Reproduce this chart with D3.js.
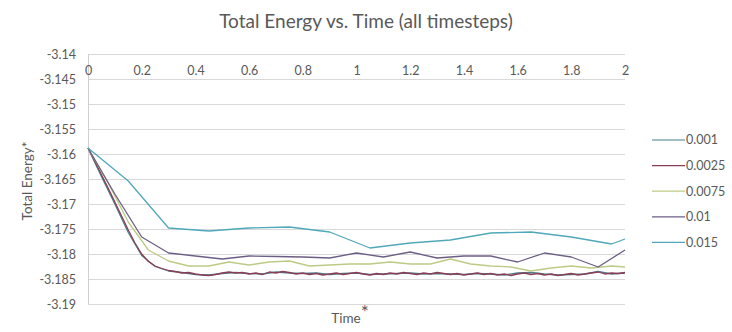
<!DOCTYPE html>
<html>
<head>
<meta charset="utf-8">
<script src="https://cdn.jsdelivr.net/npm/d3@7"></script>
<style>
  html, body { margin: 0; padding: 0; background: #fff; }
  svg { display: block; }
  text, tspan { font-family: Lato, "Open Sans", sans-serif; fill: #595959; }
</style>
</head>
<body>
<svg id="chart" width="732" height="332"></svg>
<script>
// Timestep labels (legend order) and their line colours
const seriesNames = ["0.001", "0.0025", "0.0075", "0.01", "0.015"];
const seriesColors = ["#4a7f8e", "#8a3d55", "#bccb84", "#6d5e85", "#4fa9ba"];

// Sampling interval of each run's output (time units)
const sampleStep = [0.05, 0.025, 0.075, 0.1, 0.15];

// Total energy per run, one value per output sample starting at t = 0
// (the final sample of each run is taken at t = 2)
const energy0001 = [
  -3.1588, -3.1645, -3.1700, -3.1757, -3.1803, -3.1825, -3.1834, -3.1837, -3.1841, -3.1842,
  -3.1839, -3.1837, -3.1839, -3.1840, -3.1836, -3.1838, -3.1839, -3.1838, -3.1841, -3.1839,
  -3.1838, -3.1841, -3.1840, -3.1839, -3.1838, -3.1840, -3.1839, -3.1840, -3.1841, -3.1839,
  -3.1840, -3.1842, -3.1838, -3.1837, -3.1840, -3.1842, -3.1841, -3.1840, -3.1835, -3.1840,
  -3.1838
];
const energy00025 = [
  -3.1588, -3.1614, -3.1641, -3.1668, -3.1696, -3.1724, -3.1752, -3.1778, -3.1800, -3.1815,
  -3.1824, -3.1829, -3.1833, -3.1835, -3.1838, -3.1837, -3.1840, -3.1842, -3.1843, -3.1841,
  -3.1838, -3.1836, -3.1838, -3.1837, -3.1840, -3.1838, -3.1841, -3.1836, -3.1838, -3.1835,
  -3.1837, -3.1840, -3.1838, -3.1841, -3.1839, -3.1842, -3.1840, -3.1838, -3.1841, -3.1839,
  -3.1837, -3.1840, -3.1842, -3.1839, -3.1841, -3.1838, -3.1840, -3.1837, -3.1839, -3.1841,
  -3.1838, -3.1840, -3.1837, -3.1839, -3.1841, -3.1839, -3.1842, -3.1840, -3.1838, -3.1841,
  -3.1839, -3.1842, -3.1840, -3.1843, -3.1840, -3.1838, -3.1841, -3.1839, -3.1842, -3.1840,
  -3.1843, -3.1841, -3.1839, -3.1842, -3.1840, -3.1838, -3.1836, -3.1840, -3.1838, -3.1839,
  -3.1837
];
const energy00075 = [
  -3.1588, -3.1658, -3.1736, -3.1792, -3.1814, -3.1824, -3.1824, -3.1816, -3.1822, -3.1816,
  -3.1814, -3.1824, -3.1822, -3.1820, -3.1820, -3.1816, -3.1820, -3.1820, -3.1810, -3.1820,
  -3.1824, -3.1826, -3.1834, -3.1828, -3.1824, -3.1828, -3.1824, -3.1826
];
const energy001 = [
  -3.1588, -3.1680, -3.1766, -3.1798, -3.1804, -3.1810, -3.1804, -3.1805, -3.1806, -3.1808,
  -3.1798, -3.1806, -3.1796, -3.1808, -3.1804, -3.1804, -3.1816, -3.1798, -3.1806, -3.1826,
  -3.1792
];
const energy0015 = [
  -3.1588, -3.1654, -3.1748, -3.1754, -3.1748, -3.1746, -3.1756, -3.1788, -3.1778, -3.1772,
  -3.1758, -3.1756, -3.1766, -3.1780, -3.1770
];

// Axis ticks
const xTicks = [0, 0.2, 0.4, 0.6, 0.8, 1, 1.2, 1.4, 1.6, 1.8, 2];
const yTicks = [-3.14, -3.145, -3.15, -3.155, -3.16, -3.165, -3.17, -3.175, -3.18, -3.185, -3.19];

const allEnergy = [energy0001, energy00025, energy00075, energy001, energy0015];

const svg = d3.select("#chart");
const plot = { left: 88, right: 625, top: 54, bottom: 304 };

const x = d3.scaleLinear().domain([0, 2]).range([plot.left, plot.right]);
const y = d3.scaleLinear().domain([-3.19, -3.14]).range([plot.bottom, plot.top]);

// Title
svg.append("text")
  .attr("x", 366).attr("y", 28)
  .attr("text-anchor", "middle")
  .style("font-size", "19px")
  .text("Total Energy vs. Time (all timesteps)");

// Horizontal gridlines
svg.append("g")
  .selectAll("line")
  .data(yTicks)
  .join("line")
  .attr("x1", plot.left).attr("x2", plot.right)
  .attr("y1", d => y(d)).attr("y2", d => y(d))
  .attr("stroke", "#d9d9d9").attr("stroke-width", 1)
  .attr("shape-rendering", "crispEdges");

// Vertical axis line
svg.append("line")
  .attr("x1", plot.left).attr("x2", plot.left)
  .attr("y1", plot.top).attr("y2", plot.bottom)
  .attr("stroke", "#d0d0d0").attr("shape-rendering", "crispEdges");

// Y axis labels
const yAxis = d3.axisLeft(y).tickValues(yTicks).tickSize(0).tickPadding(12)
  .tickFormat(d => String(+d.toFixed(3)));
const gy = svg.append("g").attr("transform", `translate(${plot.left},0)`).call(yAxis);
gy.select(".domain").remove();
gy.selectAll("text").style("font-size", "12.5px").attr("fill", "#595959")
  .style("font-family", null);

// X axis sits at the top of the plot (the axis crosses at the maximum energy)
const xAxis = d3.axisBottom(x).tickValues(xTicks).tickSize(0).tickPadding(12)
  .tickFormat(d => String(d));
const gx = svg.append("g").attr("transform", `translate(0,${plot.top})`).call(xAxis);
gx.select(".domain").remove();
gx.selectAll("text").style("font-size", "12.5px").attr("fill", "#595959")
  .style("font-family", null);

// Series lines
const line = d3.line().x(d => x(d.t)).y(d => y(d.v));
const series = seriesNames.map((name, i) => ({
  name,
  color: seriesColors[i],
  points: allEnergy[i].map((v, k) => ({ t: Math.min(k * sampleStep[i], 2), v }))
}));

svg.append("g")
  .selectAll("path")
  .data(series)
  .join("path")
  .attr("d", d => line(d.points))
  .attr("fill", "none")
  .attr("stroke", d => d.color)
  .attr("stroke-width", 1.3)
  .attr("stroke-linejoin", "round");

// Axis titles
svg.append("text")
  .attr("transform", "translate(32,181) rotate(-90)")
  .attr("text-anchor", "middle")
  .style("font-size", "13.5px")
  .text("Total Energy*");

const xt = svg.append("text")
  .attr("x", 350).attr("y", 323)
  .attr("text-anchor", "middle")
  .style("font-size", "13.5px");
xt.append("tspan").text("Time");
xt.append("tspan").attr("dy", -4).style("font-size", "19px").style("fill", "#595959").text("*");

// Legend
const legend = svg.append("g")
  .selectAll("g")
  .data(series)
  .join("g")
  .attr("transform", (d, i) => `translate(652,${140 + i * 25.6})`);
legend.append("line")
  .attr("x1", 0).attr("x2", 33).attr("y1", 0).attr("y2", 0)
  .attr("stroke", d => d.color).attr("stroke-width", 1.2);
legend.append("text")
  .attr("x", 34).attr("y", 0).attr("dy", "0.35em")
  .style("font-size", "12.5px")
  .text(d => d.name);
</script>
</body>
</html>
